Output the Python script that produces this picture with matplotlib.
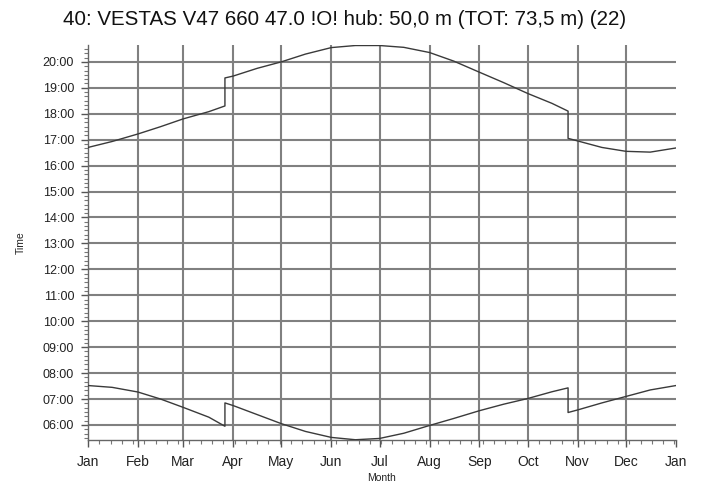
import numpy as np
import matplotlib
matplotlib.use("Agg")
import matplotlib.pyplot as plt
from matplotlib.ticker import FixedLocator, MultipleLocator, FuncFormatter

plt.rcParams["font.family"] = ["Liberation Sans", "DejaVu Sans"]

TITLE = "40: VESTAS V47 660 47.0 !O! hub: 50,0 m (TOT: 73,5 m) (22)"
MONTHS = ["Jan", "Feb", "Mar", "Apr", "May", "Jun", "Jul",
          "Aug", "Sep", "Oct", "Nov", "Dec", "Jan"]
MONTH_START = [0, 31, 59, 90, 120, 151, 181, 212, 243, 273, 304, 334, 365]

# sunset (hours), day of year; repeated day = DST step
set_day = [0, 15, 31, 45, 59, 75, 85, 85, 90, 105, 120, 135, 151, 166, 181,
           196, 212, 227, 243, 258, 273, 288, 298, 298, 304, 319, 334, 349, 365]
set_hr = [16.70, 16.93, 17.22, 17.50, 17.80, 18.08, 18.30, 19.38, 19.45, 19.75,
          20.00, 20.30, 20.55, 20.63, 20.63, 20.56, 20.36, 20.03, 19.60, 19.20,
          18.78, 18.40, 18.10, 17.05, 16.95, 16.70, 16.55, 16.52, 16.68]

# sunrise (hours)
rise_day = [0, 15, 31, 45, 59, 75, 85, 85, 90, 105, 120, 135, 151, 166, 181,
            196, 212, 227, 243, 258, 273, 288, 298, 298, 304, 319, 334, 349, 365]
rise_hr = [7.52, 7.45, 7.27, 7.00, 6.68, 6.30, 5.95, 6.85, 6.75, 6.40, 6.05,
           5.75, 5.52, 5.43, 5.48, 5.68, 5.98, 6.25, 6.55, 6.80, 7.02, 7.28,
           7.43, 6.48, 6.58, 6.85, 7.10, 7.35, 7.52]

fig = plt.figure(figsize=(7.05, 4.86), dpi=100)
ax = fig.add_axes([88 / 705, 1 - 440 / 486, 588 / 705, 395 / 486])

line_kw = dict(color="#3a3a3a", lw=1.0, zorder=3)
ax.plot(set_day, set_hr, **line_kw)
ax.plot(rise_day, rise_hr, **line_kw)

ax.set_xlim(0, 365)
ax.set_ylim(5.42, 20.65)

ax.xaxis.set_major_locator(FixedLocator(MONTH_START))
ax.set_xticklabels(MONTHS)
ax.xaxis.set_minor_locator(MultipleLocator(7))
ax.yaxis.set_major_locator(FixedLocator(range(6, 21)))
ax.yaxis.set_minor_locator(MultipleLocator(1 / 6))
ax.yaxis.set_major_formatter(FuncFormatter(lambda v, p: f"{int(round(v)):02d}:00"))

ax.grid(True, which="major", color="#808080", lw=1.5, zorder=1)
ax.xaxis.get_gridlines()[0].set_visible(False)
ax.xaxis.get_gridlines()[-1].set_visible(False)

for s in ("top", "right"):
    ax.spines[s].set_visible(False)
for s in ("left", "bottom"):
    ax.spines[s].set_color("#666666")
    ax.spines[s].set_linewidth(1.0)

ax.tick_params(which="major", length=5, width=1, color="#555555",
               labelcolor="#222222")
ax.tick_params(axis="x", which="major", labelsize=10, pad=6)
ax.tick_params(axis="y", which="major", labelsize=9, pad=5)
ax.tick_params(which="minor", length=3, width=0.8, color="#777777")

ax.set_xlabel("Month", fontsize=7.5, labelpad=3, color="#222222")
ax.set_ylabel("Time", fontsize=7.5, labelpad=12, color="#222222")

fig.text(0.489, 0.96, TITLE, ha="center", va="center", fontsize=14.8,
         color="#111111")

fig.savefig("out.png", dpi=100)
